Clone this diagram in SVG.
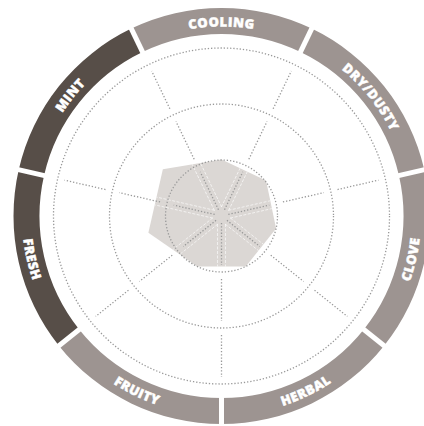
<svg xmlns="http://www.w3.org/2000/svg" xmlns:xlink="http://www.w3.org/1999/xlink" width="424" height="426" viewBox="0 0 424 426">
<style>
.dark{fill:#574e48}
.light{fill:#9d9491}
.gap{stroke:#ffffff;stroke-width:5}
.dot{fill:none;stroke:#999999;stroke-width:1.3;stroke-dasharray:1.3 1.9}
.wl{stroke:#ffffff;stroke-width:0.8;stroke-opacity:0.75;stroke-dasharray:3 1.5}
.lbl{font-family:"Open Sans","Liberation Sans",sans-serif;font-weight:800;font-size:13px;fill:#ffffff;stroke:#ffffff;stroke-width:0.45px;letter-spacing:0.5px}
</style>
<defs>
<g id="spoke">
<line class="dot" x1="221.5" y1="223" x2="221.5" y2="265"/>
<line class="dot" x1="221.5" y1="279" x2="221.5" y2="321"/>
<line class="dot" x1="221.5" y1="335" x2="221.5" y2="377"/>
</g>
<g id="wpair">
<line class="wl" x1="217.5" y1="224" x2="217.5" y2="300"/>
<line class="wl" x1="225.5" y1="224" x2="225.5" y2="300"/>
</g>
<clipPath id="polyclip">
<polygon points="221.5,159.5 266.064,180.461 276.096,228.461 245.797,266.454 197.203,266.454 148.38,232.689 162.863,169.238"/>
</clipPath>
<path id="pCooling" d="M141.414,44.254 A189.5,189.5 0 0 1 301.586,44.254"/>
<path id="pDry" d="M305.846,46.305 A189.5,189.5 0 0 1 405.707,171.524"/>
<path id="pMint" d="M37.293,171.524 A189.5,189.5 0 0 1 137.154,46.305"/>
<path id="pClove" d="M379.025,338.421 A199.5,199.5 0 0 0 416.535,174.033"/>
<path id="pHerbal" d="M223.986,415.484 A199.5,199.5 0 0 0 375.921,342.315"/>
<path id="pFruity" d="M67.079,342.315 A199.5,199.5 0 0 0 219.014,415.484"/>
<path id="pFresh" d="M26.465,174.033 A199.5,199.5 0 0 0 63.975,338.421"/>
</defs>
<rect width="424" height="426" fill="#ffffff"/>

<g id="data-polygon">
<polygon points="221.5,159.5 266.064,180.461 276.096,228.461 245.797,266.454 197.203,266.454 148.38,232.689 162.863,169.238" fill="#dbd7d4"/>
<g clip-path="url(#polyclip)">
<use xlink:href="#wpair"/>
<use xlink:href="#wpair" transform="rotate(51.4286 221.5 216)"/>
<use xlink:href="#wpair" transform="rotate(102.857 221.5 216)"/>
<use xlink:href="#wpair" transform="rotate(154.286 221.5 216)"/>
<use xlink:href="#wpair" transform="rotate(205.714 221.5 216)"/>
<use xlink:href="#wpair" transform="rotate(257.143 221.5 216)"/>
<use xlink:href="#wpair" transform="rotate(308.571 221.5 216)"/>
</g>
</g>

<g id="grid">
<circle class="dot" cx="221.5" cy="216" r="56"/>
<circle class="dot" cx="221.5" cy="216" r="112"/>
<circle class="dot" cx="221.5" cy="216" r="168"/>
<use xlink:href="#spoke"/>
<use xlink:href="#spoke" transform="rotate(51.4286 221.5 216)"/>
<use xlink:href="#spoke" transform="rotate(102.857 221.5 216)"/>
<use xlink:href="#spoke" transform="rotate(154.286 221.5 216)"/>
<use xlink:href="#spoke" transform="rotate(205.714 221.5 216)"/>
<use xlink:href="#spoke" transform="rotate(257.143 221.5 216)"/>
<use xlink:href="#spoke" transform="rotate(308.571 221.5 216)"/>
</g>

<g id="seg-cooling">
<path class="light" d="M131.253,28.598 A208,208 0 0 1 311.747,28.598 L300.466,52.023 A182,182 0 0 0 142.534,52.023 Z"/>
<text class="lbl"><textPath xlink:href="#pCooling" startOffset="50%" text-anchor="middle">COOLING</textPath></text>
</g>
<g id="seg-drydusty">
<path class="light" d="M311.747,28.598 A208,208 0 0 1 424.285,169.716 L398.937,175.501 A182,182 0 0 0 300.466,52.023 Z"/>
<text class="lbl"><textPath xlink:href="#pDry" startOffset="50%" text-anchor="middle">DRY/DUSTY</textPath></text>
</g>
<g id="seg-clove">
<path class="light" d="M424.285,169.716 A208,208 0 0 1 384.121,345.686 L363.793,329.475 A182,182 0 0 0 398.937,175.501 Z"/>
<text class="lbl"><textPath xlink:href="#pClove" startOffset="50%" text-anchor="middle">CLOVE</textPath></text>
</g>
<g id="seg-herbal">
<path class="light" d="M384.121,345.686 A208,208 0 0 1 221.5,424 L221.5,398 A182,182 0 0 0 363.793,329.475 Z"/>
<text class="lbl"><textPath xlink:href="#pHerbal" startOffset="50%" text-anchor="middle">HERBAL</textPath></text>
</g>
<g id="seg-fruity">
<path class="light" d="M221.5,424 A208,208 0 0 1 58.879,345.686 L79.207,329.475 A182,182 0 0 0 221.5,398 Z"/>
<text class="lbl"><textPath xlink:href="#pFruity" startOffset="50%" text-anchor="middle">FRUITY</textPath></text>
</g>
<g id="seg-fresh">
<path class="dark" d="M58.879,345.686 A208,208 0 0 1 18.715,169.716 L44.063,175.501 A182,182 0 0 0 79.207,329.475 Z"/>
<text class="lbl"><textPath xlink:href="#pFresh" startOffset="50%" text-anchor="middle">FRESH</textPath></text>
</g>
<g id="seg-mint">
<path class="dark" d="M18.715,169.716 A208,208 0 0 1 131.253,28.598 L142.534,52.023 A182,182 0 0 0 44.063,175.501 Z"/>
<text class="lbl"><textPath xlink:href="#pMint" startOffset="50%" text-anchor="middle">MINT</textPath></text>
</g>

<g id="connectors">
<line class="gap" x1="145.137" y1="57.429" x2="128.65" y2="23.192"/>
<line class="gap" x1="297.863" y1="57.429" x2="314.35" y2="23.192"/>
<line class="gap" x1="393.088" y1="176.836" x2="430.135" y2="168.381"/>
<line class="gap" x1="359.102" y1="325.734" x2="388.812" y2="349.427"/>
<line class="gap" x1="221.5" y1="392" x2="221.5" y2="430"/>
<line class="gap" x1="83.898" y1="325.734" x2="54.188" y2="349.427"/>
<line class="gap" x1="49.912" y1="176.836" x2="12.865" y2="168.381"/>
</g>
</svg>
